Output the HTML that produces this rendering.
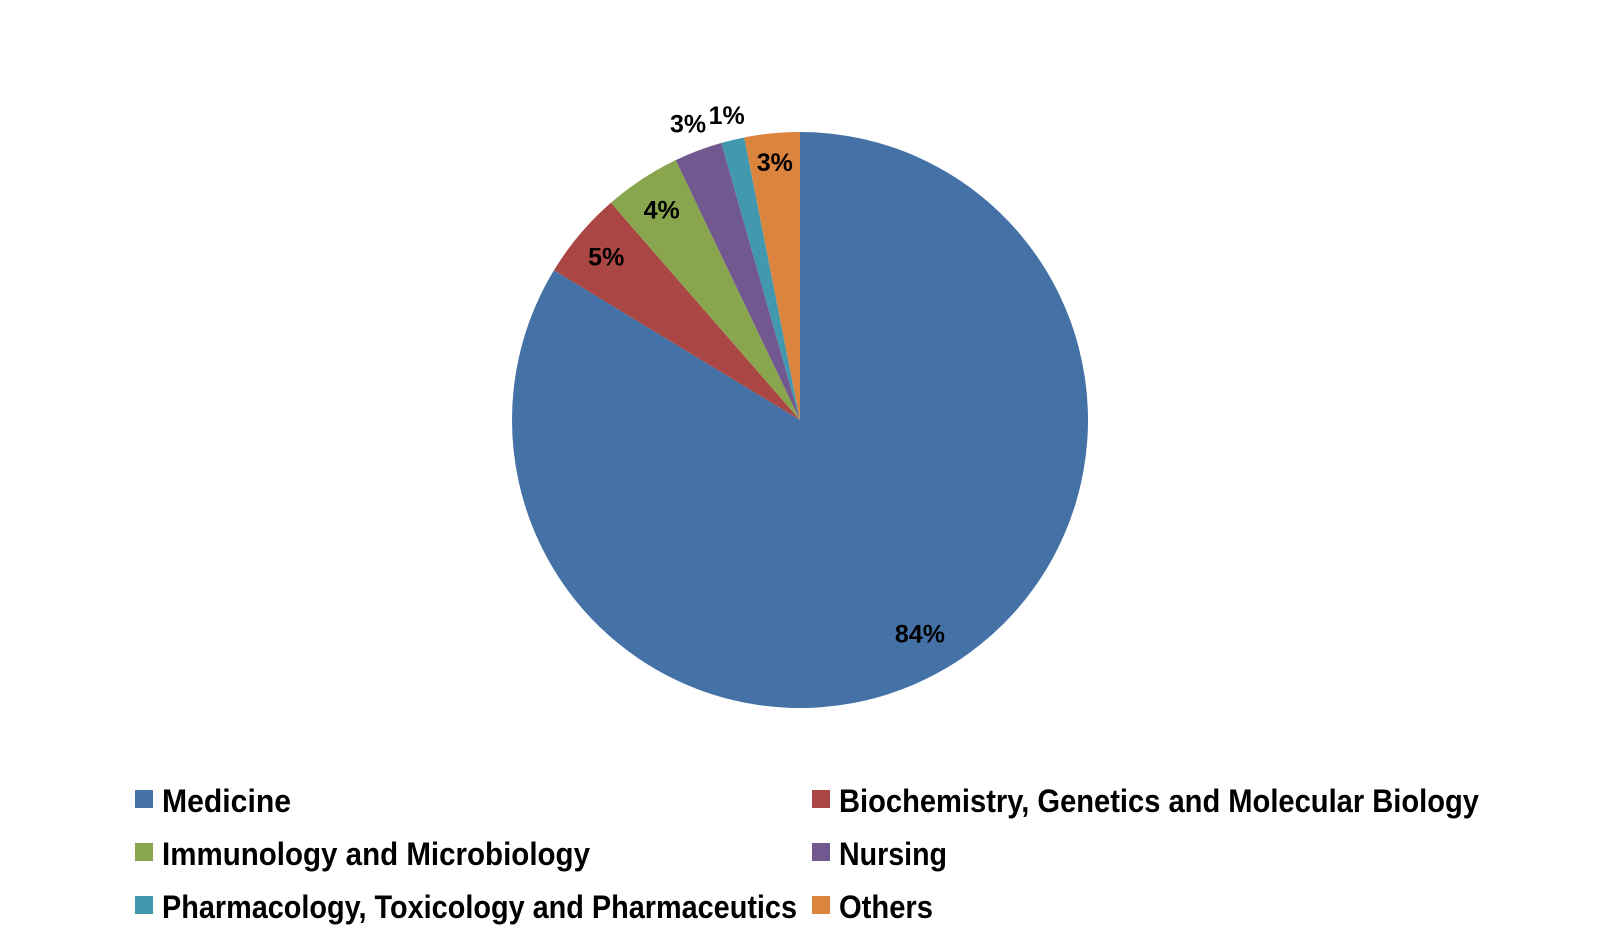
<!DOCTYPE html>
<html><head><meta charset="utf-8">
<style>
html,body{margin:0;padding:0;background:#fff;}
svg{display:block;font-family:"Liberation Sans",Arial,sans-serif;}
</style></head>
<body>
<svg id="chart" width="1600" height="943" viewBox="0 0 1600 943">
<g id="slices"></g>
<g id="labels"></g>
<g id="legend"></g>
</svg>
<script>
const categories = ["Medicine","Biochemistry, Genetics and Molecular Biology","Immunology and Microbiology","Nursing","Pharmacology, Toxicology and Pharmaceutics","Others"];
const values = [83.7, 4.9, 4.3, 2.7, 1.3, 3.1];
const labelText = ["84%","5%","4%","3%","1%","3%"];
const colors = ["#4472a6","#aa4643","#89a54e","#71588f","#4198af","#db843d"];
const NS = "http://www.w3.org/2000/svg";
const cx = 800, cy = 420, r = 288;
const total = values.reduce((a,b)=>a+b,0);
const pt = (a, rad) => [cx + rad*Math.sin(a), cy - rad*Math.cos(a)];
const slicesG = document.getElementById('slices');
const labelsG = document.getElementById('labels');
const labelR = [0.85, 0.88, 0.875, 1.10, 1.09, 0.9];
let acc = 0;
values.forEach((v,i)=>{
  const a0 = acc/total*2*Math.PI; acc += v;
  const a1 = acc/total*2*Math.PI;
  const [x0,y0] = pt(a0,r), [x1,y1] = pt(a1,r);
  const large = (a1-a0) > Math.PI ? 1 : 0;
  const p = document.createElementNS(NS,'path');
  p.setAttribute('d',`M${cx},${cy} L${x0},${y0} A${r},${r} 0 ${large} 1 ${x1},${y1} Z`);
  p.setAttribute('fill',colors[i]);
  
  
  slicesG.appendChild(p);
  const am = (a0+a1)/2;
  const [lx,ly] = pt(am, r*labelR[i]);
  const t = document.createElementNS(NS,'text');
  t.setAttribute('x',lx); t.setAttribute('y',ly+9);
  t.setAttribute('text-anchor','middle');
  t.setAttribute('font-size','25'); t.setAttribute('font-weight','bold');
  t.textContent = labelText[i];
  
  
  labelsG.appendChild(t);
});
const legendG = document.getElementById('legend');
const colX = [135, 812];
const rowY = [812, 865, 918];
const widths = [129, 640, 428, 108, 635, 94];
categories.forEach((c,i)=>{
  const x = colX[i%2], y = rowY[Math.floor(i/2)];
  const g = document.createElementNS(NS,'g');
  
  
  const s = document.createElementNS(NS,'rect');
  s.setAttribute('x',x); s.setAttribute('y',y-22); s.setAttribute('width',18); s.setAttribute('height',18);
  s.setAttribute('fill',colors[i]);
  
  
  const t = document.createElementNS(NS,'text');
  t.setAttribute('x',x+27); t.setAttribute('y',y);
  t.setAttribute('font-size','32'); t.setAttribute('font-weight','bold');
  t.setAttribute('textLength',widths[i]); t.setAttribute('lengthAdjust','spacingAndGlyphs');
  t.textContent = c;
  
  
  g.appendChild(s); g.appendChild(t);
  legendG.appendChild(g);
});
</script>
</body></html>
